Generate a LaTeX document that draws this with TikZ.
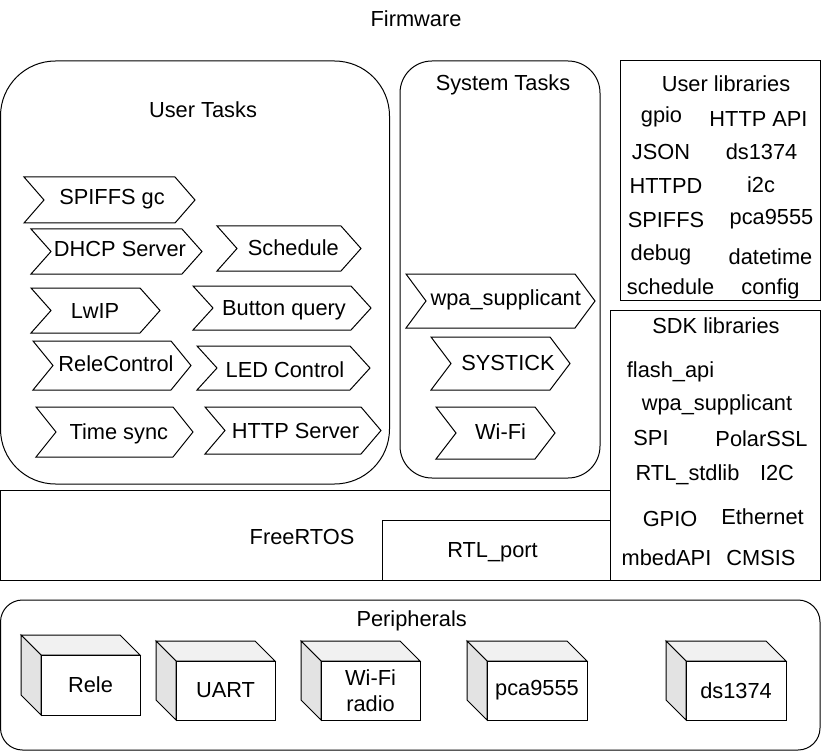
\documentclass[tikz,border=0pt]{standalone}
\usepackage{fontspec}
\setmainfont{Liberation Sans}
\definecolor{cubetop}{RGB}{241,241,241}
\definecolor{cubeside}{RGB}{227,227,227}
\newcommand\chev[8]{%
  \draw[chevline] (#2,#3) -- ({#4-20},#3) -- (#4,{(#3+#5)/2}) -- ({#4-20},#5) -- (#2,#5) -- ({#2+20},{(#3+#5)/2}) -- cycle;
  \node[lbl] (#1) at (#6,#7) {#8};
}
\newcommand\cubebox[6]{%
  \filldraw[fill=cubetop, line join=miter] ({#2-20},{#3-20}) -- ({#4-20},{#3-20}) -- (#4,#3) -- (#2,#3) -- cycle;
  \filldraw[fill=cubeside, line join=miter] ({#2-20},{#3-20}) -- (#2,#3) -- (#2,#5) -- ({#2-20},{#5-20}) -- cycle;
  \node[frontface, minimum width={#4-#2}, minimum height={#5-#3}] (#1) at ({(#2+#4)/2},{(#3+#5)/2}) {#6};
}
\begin{document}
\begin{tikzpicture}[x=1pt, y=-1pt, line width=1pt,
  lbl/.style={inner sep=0pt, anchor=base, font=\fontsize{21.8}{25}\selectfont},
  chevline/.style={draw=black, line join=miter},
  container/.style={draw=black, inner sep=0pt, outer sep=0pt, anchor=north west},
  frontface/.style={draw=black, fill=white, inner sep=0pt, outer sep=0pt, align=center, font=\fontsize{21.8}{26}\selectfont}]
\useasboundingbox (0,0) rectangle (821,751);

% containers
\node[container, rounded corners=55pt, minimum width=389pt, minimum height=423pt] (usertasks) at (0.5,61) {};
\node[container, rounded corners=32pt, minimum width=200pt, minimum height=417pt] (systasks) at (400,61) {};
\node[container, minimum width=200pt, minimum height=239pt] (userlibs) at (620,61) {};
\node[container, minimum width=210pt, minimum height=270pt] (sdklibs) at (610,310) {};
\node[container, minimum width=609.5pt, minimum height=90pt] (freertos) at (0.5,490) {};
\node[container, minimum width=228pt, minimum height=60pt] (rtlport) at (382,520) {};
\node[container, rounded corners=22pt, minimum width=819.5pt, minimum height=150pt] (periph) at (0.5,600) {};

% container labels
\node[lbl] (fwlbl) at (416,26.7) {Firmware};
\node[lbl] (utlbl) at (203,117.3) {User Tasks};
\node[lbl] (stlbl) at (503,90.7) {System Tasks};
\node[lbl] (ullbl) at (726,91.7) {User libraries};
\node[lbl] (sdklbl) at (716,333.3) {SDK libraries};
\node[lbl] (rtoslbl) at (302,544) {FreeRTOS};
\node[lbl] (rtllbl) at (492.5,557.3) {RTL\_port};
\node[lbl] (perlbl) at (411.7,626.7) {Peripherals};

% user tasks
\chev{spiffsgc}{24}{177}{195}{223}{112}{205}{SPIFFS gc}
\chev{dhcp}{31}{229}{202}{274}{120}{256}{DHCP Server}
\chev{sched}{217}{226}{361}{271}{293.3}{255.7}{Schedule}
\chev{lwip}{31}{288}{160}{333}{95}{318.3}{LwIP}
\chev{button}{193}{286}{371}{330}{284}{315}{Button query}
\chev{relectl}{33}{341}{191}{390}{116}{371.7}{ReleControl}
\chev{ledctl}{197}{346}{370}{390}{285}{377.7}{LED Control}
\chev{timesync}{36}{407}{193}{457}{118.8}{439.3}{Time sync}
\chev{httpsrv}{205}{407}{381}{454}{295.5}{438.3}{HTTP Server}

% system tasks
\chev{wpa}{406}{274}{595}{328}{505.7}{305.7}{wpa\_supplicant}
\chev{systick}{431}{337}{570}{390}{508}{370}{SYSTICK}
\chev{wifi}{436}{407}{555}{459}{500.5}{439.3}{Wi-Fi}

% user libraries
\node[lbl] (ul1) at (661.5,123) {gpio};
\node[lbl] (ul2) at (758.5,127) {HTTP API};
\node[lbl] (ul3) at (661,160) {JSON};
\node[lbl] (ul4) at (761.5,160) {ds1374};
\node[lbl] (ul5) at (666,194) {HTTPD};
\node[lbl] (ul6) at (761,192.7) {i2c};
\node[lbl] (ul7) at (666,228) {SPIFFS};
\node[lbl] (ul8) at (771.5,225) {pca9555};
\node[lbl] (ul9) at (661,261) {debug};
\node[lbl] (ul10) at (770.5,264) {datetime};
\node[lbl] (ul11) at (670.5,294) {schedule};
\node[lbl] (ul12) at (770.5,294) {config};

% sdk libraries
\node[lbl] (sl1) at (670.5,377) {flash\_api};
\node[lbl] (sl2) at (717,410) {wpa\_supplicant};
\node[lbl] (sl3) at (651,445) {SPI};
\node[lbl] (sl4) at (761.5,446.7) {PolarSSL};
\node[lbl] (sl5) at (687.5,480) {RTL\_stdlib};
\node[lbl] (sl6) at (777,480) {I2C};
\node[lbl] (sl7) at (670,526.7) {GPIO};
\node[lbl] (sl8) at (762.5,524) {Ethernet};
\node[lbl] (sl9) at (666.5,565) {mbedAPI};
\node[lbl] (sl10) at (761,565) {CMSIS};

% peripherals
\cubebox{rele}{41}{655}{140}{715}{Rele}
\cubebox{uart}{176}{661}{275}{720}{UART}
\cubebox{wifiradio}{321}{661}{420}{720}{Wi-Fi\\radio}
\cubebox{pca}{487}{661}{587}{720}{pca9555}
\cubebox{ds}{686}{661}{786}{720}{ds1374}
\end{tikzpicture}
\end{document}
